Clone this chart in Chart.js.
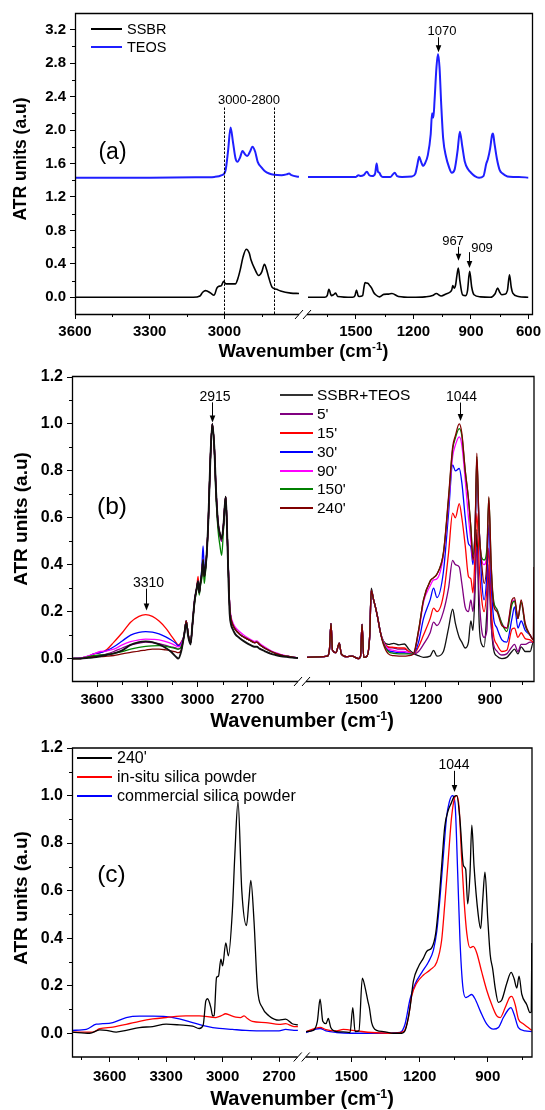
<!DOCTYPE html>
<html lang="en">
<head>
<meta charset="UTF-8">
<title>ATR spectra SSBR / TEOS</title>
<script src="https://cdn.jsdelivr.net/npm/chart.js@4.4.2/dist/chart.umd.min.js"></script>
<style>
  body { margin: 0; background: #fff; font-family: 'Liberation Sans', Arial, Helvetica, sans-serif; }
  #page { position: relative; width: 545px; height: 1110px; overflow: hidden; background: #fff; }
  #page canvas { position: absolute; }
  .t { position: absolute; white-space: nowrap; color: #000; line-height: 1; }
  .t sup { font-size: 62%; vertical-align: 0.6em; line-height: 0; }
  .lg { position: absolute; }
  svg { position: absolute; left: 0; top: 0; }
</style>
</head>
<body>
<div id="page"></div>

<script>
// ---------------- data (wavenumbers in cm-1, ATR units) ----------------

// panel (a) - SSBR and TEOS
const aSsbrLeftX  = [3600, 3125, 3098, 3087, 3075, 3057, 3041, 3030, 3024, 3012, 3003, 2994, 2975, 2956, 2945, 2936, 2925, 2912, 2900, 2893, 2878, 2862, 2850, 2839, 2830, 2821, 2808, 2790, 2774, 2733, 2700];
const aSsbrLeftY  = [0.0, 0.0, 0.016, 0.06, 0.08, 0.055, 0.025, 0.11, 0.13, 0.14, 0.19, 0.16, 0.16, 0.16, 0.23, 0.33, 0.48, 0.575, 0.53, 0.45, 0.34, 0.26, 0.30, 0.395, 0.33, 0.23, 0.12, 0.095, 0.075, 0.05, 0.045];
const aSsbrRightX = [1750, 1663, 1650, 1641, 1628, 1617, 1606, 1595, 1517, 1505, 1497, 1489, 1483, 1465, 1458, 1452, 1445, 1437, 1428, 1418, 1408, 1397, 1377, 1355, 1330, 1312, 1278, 1209, 1140, 1100, 1081, 1055, 1030, 1010, 1000, 995, 988, 980, 974, 966, 958, 944, 927, 918, 907, 896, 884, 850, 799, 775, 761, 750, 739, 725, 710, 699, 690, 682, 653, 600];
const aSsbrRightY = [0.0, 0.0, 0.02, 0.096, 0.02, 0.03, 0.05, 0.01, 0.0, 0.02, 0.087, 0.02, 0.01, 0.02, 0.12, 0.176, 0.17, 0.165, 0.14, 0.11, 0.06, 0.03, 0.005, 0.035, 0.038, 0.045, 0.01, 0.0, 0.005, 0.02, 0.045, 0.015, 0.04, 0.06, 0.09, 0.14, 0.11, 0.15, 0.25, 0.35, 0.2, 0.03, 0.02, 0.08, 0.31, 0.12, 0.03, 0.005, 0.0, 0.04, 0.11, 0.06, 0.03, 0.035, 0.08, 0.27, 0.12, 0.05, 0.01, 0.0];
const aTeosLeftX  = [3600, 3300, 3100, 3040, 3010, 2995, 2985, 2975, 2965, 2955, 2947, 2937, 2927, 2917, 2908, 2897, 2887, 2876, 2866, 2850, 2838, 2820, 2800, 2770, 2750, 2740, 2730, 2700];
const aTeosLeftY  = [1.43, 1.43, 1.435, 1.44, 1.46, 1.52, 1.75, 2.03, 1.85, 1.66, 1.62, 1.67, 1.75, 1.71, 1.69, 1.74, 1.80, 1.74, 1.62, 1.55, 1.51, 1.48, 1.465, 1.46, 1.47, 1.48, 1.46, 1.44];
const aTeosRightX = [1750, 1600, 1500, 1487, 1475, 1460, 1443, 1430, 1415, 1400, 1392, 1385, 1378, 1370, 1360, 1320, 1298, 1285, 1260, 1210, 1190, 1180, 1170, 1160, 1150, 1140, 1125, 1110, 1103, 1096, 1090, 1080, 1072, 1064, 1055, 1045, 1030, 1015, 1000, 985, 970, 958, 945, 932, 915, 900, 880, 858, 835, 820, 812, 800, 790, 785, 778, 765, 750, 735, 710, 680, 650, 600];
const aTeosRightY = [1.44, 1.44, 1.44, 1.46, 1.45, 1.46, 1.50, 1.46, 1.45, 1.48, 1.60, 1.50, 1.49, 1.455, 1.44, 1.44, 1.49, 1.45, 1.44, 1.445, 1.48, 1.58, 1.68, 1.62, 1.57, 1.60, 1.70, 1.95, 2.20, 2.15, 2.35, 2.75, 2.91, 2.75, 2.30, 1.90, 1.68, 1.56, 1.49, 1.53, 1.75, 1.98, 1.80, 1.62, 1.53, 1.49, 1.45, 1.43, 1.45, 1.60, 1.65, 1.78, 1.94, 1.96, 1.85, 1.66, 1.52, 1.48, 1.445, 1.44, 1.44, 1.43];

// panel (b) - SSBR+TEOS and reaction times
const bLegend = ['SSBR+TEOS', "5'", "15'", "30'", "90'", "150'", "240'"];
const bLeftX = [3750, 3700, 3650, 3620, 3580, 3540, 3500, 3450, 3400, 3350, 3310, 3270, 3230, 3190, 3160, 3130, 3115, 3098, 3080, 3068, 3055, 3042, 3030, 3017, 3005, 2997, 2990, 2983, 2975, 2967, 2960, 2955, 2945, 2935, 2925, 2912, 2900, 2890, 2878, 2866, 2856, 2845, 2832, 2825, 2816, 2808, 2800, 2790, 2776, 2750, 2715, 2680, 2660, 2645, 2630, 2600, 2560, 2534, 2500, 2470, 2433, 2400];
const bLeftRef = [0.0, 0.0, 0.003, 0.005, 0.01, 0.016, 0.022, 0.035, 0.058, 0.07, 0.073, 0.07, 0.06, 0.045, 0.03, 0.008, 0.0, 0.03, 0.10, 0.15, 0.09, 0.06, 0.15, 0.25, 0.30, 0.33, 0.28, 0.32, 0.36, 0.42, 0.35, 0.37, 0.45, 0.60, 0.82, 1.0, 0.90, 0.72, 0.58, 0.53, 0.51, 0.57, 0.69, 0.58, 0.35, 0.19, 0.145, 0.125, 0.105, 0.088, 0.07, 0.056, 0.05, 0.05, 0.042, 0.032, 0.02, 0.015, 0.01, 0.007, 0.004, 0.002];
const bLeft5   = [0.0, 0.0, 0.005, 0.01, 0.014, 0.02, 0.03, 0.045, 0.058, 0.066, 0.07, 0.068, 0.063, 0.056, 0.05, 0.045, 0.04, 0.05, 0.10, 0.16, 0.10, 0.065, 0.15, 0.25, 0.30, 0.33, 0.28, 0.32, 0.36, 0.42, 0.35, 0.37, 0.45, 0.60, 0.82, 1.0, 0.90, 0.72, 0.58, 0.52, 0.50, 0.57, 0.69, 0.58, 0.38, 0.22, 0.17, 0.145, 0.125, 0.105, 0.088, 0.075, 0.068, 0.07, 0.06, 0.045, 0.03, 0.022, 0.015, 0.01, 0.006, 0.003];
const bLeft15  = [0.0, 0.002, 0.01, 0.02, 0.025, 0.04, 0.07, 0.11, 0.155, 0.18, 0.187, 0.18, 0.16, 0.13, 0.10, 0.07, 0.058, 0.07, 0.10, 0.16, 0.10, 0.065, 0.15, 0.25, 0.30, 0.35, 0.29, 0.32, 0.36, 0.42, 0.35, 0.37, 0.45, 0.60, 0.82, 1.0, 0.90, 0.72, 0.58, 0.53, 0.51, 0.57, 0.69, 0.58, 0.38, 0.22, 0.17, 0.145, 0.125, 0.105, 0.088, 0.075, 0.068, 0.07, 0.06, 0.045, 0.03, 0.022, 0.015, 0.01, 0.006, 0.003];
const bLeft30  = [0.0, 0.002, 0.01, 0.02, 0.025, 0.035, 0.05, 0.075, 0.10, 0.112, 0.115, 0.113, 0.105, 0.092, 0.08, 0.065, 0.055, 0.065, 0.10, 0.16, 0.10, 0.065, 0.15, 0.25, 0.30, 0.33, 0.28, 0.32, 0.38, 0.48, 0.38, 0.37, 0.45, 0.60, 0.82, 1.0, 0.90, 0.72, 0.58, 0.53, 0.51, 0.57, 0.69, 0.58, 0.38, 0.22, 0.17, 0.145, 0.125, 0.105, 0.088, 0.075, 0.068, 0.07, 0.06, 0.045, 0.03, 0.022, 0.015, 0.01, 0.006, 0.003];
const bLeft90  = [0.0, 0.002, 0.012, 0.02, 0.03, 0.033, 0.04, 0.058, 0.072, 0.08, 0.083, 0.082, 0.08, 0.072, 0.065, 0.055, 0.05, 0.06, 0.10, 0.16, 0.10, 0.065, 0.15, 0.25, 0.30, 0.33, 0.28, 0.32, 0.36, 0.42, 0.35, 0.37, 0.45, 0.60, 0.82, 1.0, 0.90, 0.72, 0.58, 0.53, 0.51, 0.57, 0.69, 0.58, 0.39, 0.23, 0.18, 0.155, 0.135, 0.115, 0.095, 0.08, 0.073, 0.075, 0.065, 0.05, 0.033, 0.025, 0.017, 0.011, 0.007, 0.003];
const bLeft150 = [0.0, 0.0, 0.008, 0.012, 0.015, 0.018, 0.022, 0.03, 0.04, 0.048, 0.052, 0.054, 0.055, 0.052, 0.048, 0.042, 0.04, 0.05, 0.10, 0.16, 0.10, 0.065, 0.15, 0.24, 0.29, 0.32, 0.27, 0.31, 0.34, 0.40, 0.32, 0.35, 0.44, 0.60, 0.82, 1.0, 0.90, 0.70, 0.55, 0.48, 0.44, 0.55, 0.69, 0.58, 0.38, 0.22, 0.17, 0.145, 0.125, 0.105, 0.088, 0.075, 0.068, 0.07, 0.06, 0.045, 0.03, 0.022, 0.015, 0.01, 0.006, 0.003];
const bLeft240 = [0.0, 0.0, 0.005, 0.008, 0.008, 0.01, 0.013, 0.02, 0.026, 0.032, 0.036, 0.04, 0.04, 0.037, 0.033, 0.028, 0.025, 0.035, 0.10, 0.16, 0.10, 0.065, 0.15, 0.25, 0.30, 0.33, 0.28, 0.32, 0.36, 0.42, 0.35, 0.37, 0.45, 0.60, 0.82, 1.0, 0.90, 0.72, 0.58, 0.53, 0.51, 0.57, 0.69, 0.58, 0.38, 0.22, 0.17, 0.145, 0.125, 0.105, 0.088, 0.075, 0.068, 0.07, 0.06, 0.045, 0.03, 0.022, 0.015, 0.01, 0.006, 0.003];

const bRightX = [1755, 1700, 1660, 1650, 1643, 1636, 1620, 1604, 1595, 1570, 1545, 1515, 1505, 1498, 1490, 1475, 1462, 1455, 1444, 1433, 1424, 1413, 1398, 1375, 1350, 1325, 1300, 1280, 1258, 1234, 1211, 1180, 1164, 1148, 1118, 1094, 1075, 1062, 1044, 1032, 1016, 1001, 990, 980, 970, 962, 951, 939, 928, 915, 906, 895, 884, 868, 845, 822, 798, 786, 770, 755, 736, 713, 698, 695];
const bRightRef = [0.005, 0.007, 0.01, 0.04, 0.15, 0.035, 0.025, 0.066, 0.02, 0.008, 0.01, 0.0, 0.01, 0.145, 0.005, 0.01, 0.1, 0.30, 0.25, 0.21, 0.17, 0.115, 0.075, 0.06, 0.065, 0.058, 0.062, 0.04, 0.022, 0.012, 0.005, 0.01, 0.035, 0.01, 0.03, 0.13, 0.21, 0.15, 0.09, 0.07, 0.045, 0.07, 0.16, 0.12, 0.3, 0.55, 0.15, 0.06, 0.05, 0.2, 0.36, 0.15, 0.04, 0.01, 0.0, 0.005, 0.03, 0.04, 0.02, 0.05, 0.03, 0.03, 0.07, 0.07];
const bRight5   = [0.005, 0.007, 0.01, 0.04, 0.15, 0.035, 0.025, 0.066, 0.02, 0.008, 0.01, 0.0, 0.01, 0.145, 0.005, 0.01, 0.1, 0.29, 0.25, 0.21, 0.17, 0.115, 0.07, 0.048, 0.045, 0.04, 0.04, 0.03, 0.02, 0.03, 0.06, 0.11, 0.155, 0.14, 0.20, 0.30, 0.418, 0.40, 0.39, 0.32, 0.218, 0.20, 0.25, 0.20, 0.33, 0.475, 0.26, 0.12, 0.09, 0.12, 0.40, 0.15, 0.06, 0.032, 0.015, 0.02, 0.05, 0.06, 0.03, 0.06, 0.06, 0.07, 0.07, 0.07];
const bRight15  = [0.005, 0.007, 0.01, 0.04, 0.15, 0.035, 0.025, 0.066, 0.02, 0.008, 0.01, 0.0, 0.01, 0.145, 0.005, 0.01, 0.1, 0.29, 0.25, 0.21, 0.17, 0.115, 0.07, 0.05, 0.048, 0.045, 0.045, 0.03, 0.02, 0.05, 0.10, 0.17, 0.215, 0.20, 0.27, 0.45, 0.62, 0.60, 0.66, 0.60, 0.48, 0.35, 0.34, 0.28, 0.45, 0.62, 0.40, 0.25, 0.20, 0.30, 0.47, 0.22, 0.10, 0.06, 0.03, 0.035, 0.125, 0.13, 0.09, 0.11, 0.085, 0.08, 0.07, 0.07];
const bRight30  = [0.005, 0.007, 0.01, 0.04, 0.15, 0.035, 0.025, 0.066, 0.02, 0.008, 0.01, 0.0, 0.01, 0.145, 0.005, 0.01, 0.1, 0.29, 0.25, 0.21, 0.17, 0.115, 0.065, 0.035, 0.028, 0.025, 0.025, 0.022, 0.02, 0.07, 0.17, 0.25, 0.30, 0.26, 0.37, 0.62, 0.825, 0.80, 0.81, 0.75, 0.60, 0.49, 0.475, 0.40, 0.55, 0.78, 0.55, 0.33, 0.25, 0.36, 0.57, 0.32, 0.175, 0.13, 0.08, 0.07, 0.17, 0.22, 0.13, 0.16, 0.12, 0.10, 0.08, 0.08];
const bRight90  = [0.005, 0.007, 0.01, 0.04, 0.15, 0.035, 0.025, 0.066, 0.02, 0.008, 0.01, 0.0, 0.01, 0.145, 0.005, 0.01, 0.1, 0.29, 0.25, 0.21, 0.17, 0.115, 0.07, 0.04, 0.035, 0.03, 0.03, 0.025, 0.02, 0.11, 0.24, 0.31, 0.335, 0.34, 0.44, 0.66, 0.86, 0.91, 0.945, 0.91, 0.76, 0.60, 0.50, 0.42, 0.55, 0.85, 0.55, 0.42, 0.40, 0.45, 0.66, 0.38, 0.24, 0.21, 0.15, 0.13, 0.24, 0.25, 0.17, 0.24, 0.14, 0.10, 0.08, 0.08];
const bRight150 = [0.005, 0.007, 0.01, 0.04, 0.15, 0.035, 0.025, 0.066, 0.02, 0.008, 0.01, 0.0, 0.01, 0.145, 0.005, 0.01, 0.1, 0.29, 0.25, 0.21, 0.17, 0.115, 0.065, 0.03, 0.022, 0.02, 0.02, 0.02, 0.02, 0.12, 0.25, 0.33, 0.345, 0.36, 0.45, 0.68, 0.89, 0.94, 0.98, 0.95, 0.80, 0.68, 0.56, 0.44, 0.55, 0.86, 0.55, 0.43, 0.42, 0.47, 0.685, 0.40, 0.25, 0.21, 0.15, 0.115, 0.23, 0.245, 0.17, 0.24, 0.14, 0.10, 0.08, 0.08];
const bRight240 = [0.005, 0.007, 0.01, 0.04, 0.15, 0.035, 0.025, 0.066, 0.02, 0.008, 0.01, 0.0, 0.01, 0.145, 0.005, 0.01, 0.1, 0.29, 0.25, 0.21, 0.17, 0.115, 0.06, 0.02, 0.012, 0.01, 0.01, 0.012, 0.02, 0.12, 0.25, 0.33, 0.345, 0.36, 0.45, 0.69, 0.90, 0.95, 1.0, 0.96, 0.80, 0.68, 0.56, 0.42, 0.55, 0.875, 0.55, 0.40, 0.32, 0.42, 0.69, 0.40, 0.23, 0.20, 0.14, 0.13, 0.25, 0.26, 0.17, 0.25, 0.15, 0.10, 0.08, 0.39];

// panel (c) - 240' film and silica powders
const cLegend = ["240'", 'in-situ silica powder', 'commercial silica powder'];
const cFilmLeftX  = [3800, 3706, 3653, 3618, 3565, 3512, 3442, 3371, 3300, 3230, 3159, 3124, 3103, 3089, 3080, 3062, 3053, 3045, 3032, 3022, 3009, 3000, 2983, 2969, 2948, 2935, 2918, 2898, 2873, 2860, 2850, 2833, 2815, 2789, 2753, 2700, 2665, 2630, 2600];
const cFilmLeftY  = [0.005, 0.0, 0.014, 0.012, 0.005, 0.012, 0.024, 0.028, 0.038, 0.035, 0.03, 0.02, 0.035, 0.136, 0.145, 0.107, 0.073, 0.075, 0.235, 0.24, 0.312, 0.284, 0.38, 0.326, 0.516, 0.75, 0.975, 0.60, 0.453, 0.56, 0.643, 0.47, 0.19, 0.108, 0.073, 0.055, 0.059, 0.04, 0.035];
const cInsituLeftX = [3800, 3689, 3653, 3583, 3512, 3442, 3371, 3300, 3195, 3124, 3036, 3009, 2983, 2965, 2930, 2905, 2886, 2868, 2842, 2771, 2700, 2665, 2621, 2600];
const cInsituLeftY = [0.005, 0.005, 0.019, 0.026, 0.037, 0.05, 0.06, 0.066, 0.073, 0.073, 0.066, 0.073, 0.082, 0.077, 0.068, 0.066, 0.073, 0.062, 0.05, 0.045, 0.037, 0.04, 0.028, 0.028];
const cCommLeftX  = [3800, 3724, 3671, 3636, 3583, 3512, 3442, 3371, 3300, 3230, 3159, 3089, 3018, 2948, 2877, 2806, 2700, 2665, 2621, 2600];
const cCommLeftY  = [0.012, 0.016, 0.038, 0.04, 0.045, 0.066, 0.072, 0.072, 0.07, 0.06, 0.045, 0.03, 0.02, 0.016, 0.012, 0.01, 0.01, 0.016, 0.012, 0.012];
const cFilmRightX = [1700, 1668, 1650, 1638, 1626, 1612, 1602, 1591, 1565, 1536, 1506, 1494, 1484, 1467, 1452, 1440, 1428, 1421, 1411, 1389, 1359, 1315, 1278, 1264, 1242, 1227, 1205, 1183, 1168, 1146, 1129, 1117, 1103, 1089, 1073, 1061, 1048, 1036, 1022, 1007, 997, 988, 978, 970, 960, 942, 931, 922, 912, 900, 889, 878, 867, 853, 838, 816, 797, 784, 772, 762, 750, 728, 714, 708, 706];
const cFilmRightY = [0.007, 0.012, 0.05, 0.143, 0.05, 0.04, 0.062, 0.024, 0.007, 0.006, 0.003, 0.108, 0.007, 0.01, 0.232, 0.193, 0.137, 0.108, 0.045, 0.012, 0.007, 0.0, 0.0, 0.01, 0.108, 0.22, 0.28, 0.316, 0.345, 0.36, 0.42, 0.53, 0.70, 0.87, 0.94, 0.967, 0.995, 1.0, 0.896, 0.706, 0.69, 0.544, 0.67, 0.875, 0.70, 0.50, 0.44, 0.56, 0.678, 0.485, 0.33, 0.27, 0.19, 0.13, 0.14, 0.21, 0.256, 0.23, 0.19, 0.24, 0.164, 0.12, 0.087, 0.09, 0.38];
const cInsituRightX = [1700, 1638, 1612, 1565, 1536, 1477, 1411, 1330, 1271, 1249, 1235, 1213, 1183, 1154, 1124, 1103, 1089, 1073, 1059, 1044, 1036, 1026, 1015, 1004, 992, 978, 964, 949, 927, 904, 882, 860, 845, 823, 804, 794, 779, 765, 744, 722, 706];
const cInsituRightY = [0.007, 0.025, 0.015, 0.01, 0.016, 0.01, 0.003, 0.0, 0.007, 0.066, 0.155, 0.21, 0.245, 0.266, 0.30, 0.39, 0.544, 0.74, 0.91, 0.995, 1.0, 0.95, 0.74, 0.558, 0.42, 0.36, 0.365, 0.34, 0.26, 0.18, 0.12, 0.073, 0.066, 0.108, 0.15, 0.155, 0.12, 0.06, 0.04, 0.024, 0.012];
const cCommRightX = [1700, 1638, 1612, 1565, 1500, 1400, 1286, 1264, 1242, 1220, 1190, 1161, 1139, 1124, 1110, 1095, 1081, 1069, 1056, 1044, 1032, 1022, 1010, 997, 985, 971, 956, 933, 904, 875, 853, 831, 809, 798, 784, 765, 735, 706];
const cCommRightY = [0.003, 0.02, 0.01, 0.003, 0.0, 0.0, 0.004, 0.038, 0.143, 0.206, 0.256, 0.30, 0.35, 0.43, 0.57, 0.75, 0.91, 0.973, 1.0, 0.967, 0.67, 0.39, 0.2, 0.15, 0.155, 0.163, 0.145, 0.094, 0.038, 0.017, 0.024, 0.066, 0.1, 0.108, 0.08, 0.024, 0.01, 0.007];

// ticks
const aLeftMajor = [3600, 3300, 3000], aLeftMinor = [3450, 3150, 2850];
const aRightMajor = [1500, 1200, 900, 600], aRightMinor = [1650, 1350, 1050, 750];
const aYMajor = [0, 0.4, 0.8, 1.2, 1.6, 2.0, 2.4, 2.8, 3.2];
const aYMinor = [0.2, 0.6, 1.0, 1.4, 1.8, 2.2, 2.6, 3.0];
const bLeftMajor = [3600, 3300, 3000, 2700], bLeftMinor = [3450, 3150, 2850, 2550];
const cLeftMajor = [3600, 3300, 3000, 2700], cLeftMinor = [3750, 3450, 3150, 2850];
const bcRightMajor = [1500, 1200, 900], bcRightMinor = [1650, 1350, 1050, 750];
const bcYMajor = [0, 0.2, 0.4, 0.6, 0.8, 1.0, 1.2];
const bcYMinor = [0.1, 0.3, 0.5, 0.7, 0.9, 1.1];

// ---------------- drawing ----------------
Chart.defaults.font.family = "'Liberation Sans', Arial, Helvetica, sans-serif";
Chart.defaults.color = '#000';

const page = document.getElementById('page');

// minor ticks, arrows and dashed marker lines drawn from the chart scales
const extras = {
  id: 'extras',
  afterDatasetsDraw(chart, args, o) {
    const { ctx, chartArea: a, scales: { x, y } } = chart;
    ctx.save();
    ctx.strokeStyle = '#000';
    ctx.fillStyle = '#000';
    ctx.lineWidth = 1;
    const seg = (x1, y1, x2, y2) => { ctx.beginPath(); ctx.moveTo(x1, y1); ctx.lineTo(x2, y2); ctx.stroke(); };
    (o.minorX || []).forEach(v => {
      const px = Math.round(x.getPixelForValue(v)) + 0.5;
      seg(px, a.bottom, px, a.bottom + 3);
    });
    (o.minorY || []).forEach(v => {
      const py = Math.round(y.getPixelForValue(v)) + 0.5;
      seg(a.left - 3, py, a.left, py);
    });
    (o.vlines || []).forEach(l => {
      const px = Math.round(x.getPixelForValue(l.x)) + 0.5;
      ctx.setLineDash([2.5, 1.5]);
      seg(px, y.getPixelForValue(l.y1), px, y.getPixelForValue(l.y2));
      ctx.setLineDash([]);
    });
    (o.arrows || []).forEach(r => {
      const px = Math.round(x.getPixelForValue(r.x)) + 0.5;
      const top = y.getPixelForValue(r.y1), tip = y.getPixelForValue(r.y2);
      seg(px, top, px, tip - 6);
      ctx.beginPath();
      ctx.moveTo(px - 2.8, tip - 7);
      ctx.lineTo(px + 2.8, tip - 7);
      ctx.lineTo(px, tip);
      ctx.closePath();
      ctx.fill();
    });
    ctx.restore();
  }
};

function line(xs, ys, color, width, order) {
  return {
    data: xs.map((x, i) => ({ x: x, y: ys[i] })),
    borderColor: color,
    borderWidth: width,
    pointRadius: 0,
    cubicInterpolationMode: 'monotone',
    fill: false,
    order: order
  };
}

function segChart(c) {
  const cv = document.createElement('canvas');
  cv.width = c.w; cv.height = c.h;
  cv.style.left = c.left + 'px'; cv.style.top = c.top + 'px';
  cv.style.width = c.w + 'px'; cv.style.height = c.h + 'px';
  page.appendChild(cv);
  const grid = { drawOnChartArea: false, drawTicks: true, tickLength: 5, color: '#000', lineWidth: 1 };
  new Chart(cv, {
    type: 'line',
    data: { datasets: c.datasets },
    plugins: [extras],
    options: {
      responsive: false,
      animation: false,
      events: [],
      layout: { autoPadding: false, padding: c.pad },
      plugins: {
        legend: { display: false },
        tooltip: { enabled: false },
        extras: { minorX: c.xMinor, minorY: c.yMinor, arrows: c.arrows, vlines: c.vlines }
      },
      scales: {
        x: {
          type: 'linear', min: c.xMin, max: c.xMax, reverse: true,
          afterBuildTicks: s => { s.ticks = c.xMajor.map(v => ({ value: v })); },
          afterFit: s => { s.height = c.xHeight; },
          grid: grid,
          border: { display: false },
          ticks: { autoSkip: false, maxRotation: 0, padding: c.xPad, font: { size: 15, weight: 'bold' }, callback: v => String(v) }
        },
        y: {
          type: 'linear', min: c.yMin, max: c.yMax, display: c.yWidth > 0,
          afterBuildTicks: s => { s.ticks = c.yMajor.map(v => ({ value: v })); },
          afterFit: s => { s.width = c.yWidth; },
          grid: grid,
          border: { display: false },
          ticks: { padding: 4, font: { size: c.yFont || 15, weight: 'bold' }, callback: v => v.toFixed(1) }
        }
      }
    }
  });
}

// ---- panel (a)
segChart({
  left: 0, top: 0, w: 303, h: 345, pad: { top: 13, left: 0, right: 4, bottom: 0 },
  yWidth: 75, xHeight: 31, xPad: 4,
  xMin: 2700, xMax: 3600, yMin: -0.2, yMax: 3.4,
  xMajor: aLeftMajor, xMinor: aLeftMinor, yMajor: aYMajor, yMinor: aYMinor,
  vlines: [{ x: 3000, y1: 2.27, y2: -0.2 }, { x: 2800, y1: 2.27, y2: -0.2 }],
  datasets: [
    line(aSsbrLeftX, aSsbrLeftY, '#000', 1.6, 1),
    line(aTeosLeftX, aTeosLeftY, '#1f1fff', 2, 0)
  ]
});
segChart({
  left: 303, top: 0, w: 242, h: 345, pad: { top: 13, left: 5, right: 13, bottom: 0 },
  yWidth: 0, xHeight: 31, xPad: 4,
  xMin: 600, xMax: 1750, yMin: -0.2, yMax: 3.4,
  xMajor: aRightMajor, xMinor: aRightMinor, yMajor: aYMajor, yMinor: [],
  arrows: [{ x: 1072, y1: 3.11, y2: 2.93 }, { x: 967, y1: 0.605, y2: 0.437 }, { x: 908, y1: 0.54, y2: 0.35 }],
  datasets: [
    line(aSsbrRightX, aSsbrRightY, '#000', 1.6, 1),
    line(aTeosRightX, aTeosRightY, '#1f1fff', 2, 0)
  ]
});

// ---- panel (b)
const bColors = ['#111111', '#800080', '#ff0000', '#0000ff', '#ff00ff', '#008000', '#800000'];
const bLeftSets = [bLeftRef, bLeft5, bLeft15, bLeft30, bLeft90, bLeft150, bLeft240];
const bRightSets = [bRightRef, bRight5, bRight15, bRight30, bRight90, bRight150, bRight240];
segChart({
  left: 0, top: 360, w: 302, h: 345, pad: { top: 17, left: 0, right: 4, bottom: 0 },
  yWidth: 72, xHeight: 23, xPad: 4, yFont: 16,
  xMin: 2400, xMax: 3750, yMin: -0.1, yMax: 1.2,
  xMajor: bLeftMajor, xMinor: bLeftMinor, yMajor: bcYMajor, yMinor: bcYMinor,
  arrows: [{ x: 2912, y1: 1.092, y2: 1.006 }, { x: 3309, y1: 0.298, y2: 0.205 }],
  datasets: bLeftSets.map((s, i) => line(bLeftX, s, bColors[i], i === 0 ? 1.9 : 1.3, i === 0 ? 0 : 8 - i))
});
segChart({
  left: 302, top: 360, w: 243, h: 345, pad: { top: 17, left: 5, right: 11, bottom: 0 },
  yWidth: 0, xHeight: 23, xPad: 4,
  xMin: 695, xMax: 1755, yMin: -0.1, yMax: 1.2,
  xMajor: bcRightMajor, xMinor: bcRightMinor, yMajor: bcYMajor, yMinor: [],
  arrows: [{ x: 1040, y1: 1.091, y2: 1.012 }],
  datasets: bRightSets.map((s, i) => line(bRightX, s, bColors[i], 1.3, 7 - i))
});

// ---- panel (c)
segChart({
  left: 0, top: 730, w: 302, h: 380, pad: { top: 18, left: 0, right: 3, bottom: 0 },
  yWidth: 72, xHeight: 53, xPad: 6, yFont: 16,
  xMin: 2600, xMax: 3800, yMin: -0.1, yMax: 1.2,
  xMajor: cLeftMajor, xMinor: cLeftMinor, yMajor: bcYMajor, yMinor: bcYMinor,
  datasets: [
    line(cFilmLeftX, cFilmLeftY, '#000', 1.3, 0),
    line(cInsituLeftX, cInsituLeftY, '#ff0000', 1.3, 1),
    line(cCommLeftX, cCommLeftY, '#0000ff', 1.3, 2)
  ]
});
segChart({
  left: 302, top: 730, w: 243, h: 380, pad: { top: 18, left: 4, right: 13, bottom: 0 },
  yWidth: 0, xHeight: 53, xPad: 6,
  xMin: 705, xMax: 1700, yMin: -0.1, yMax: 1.2,
  xMajor: bcRightMajor, xMinor: bcRightMinor, yMajor: bcYMajor, yMinor: [],
  arrows: [{ x: 1048, y1: 1.104, y2: 1.015 }],
  datasets: [
    line(cFilmRightX, cFilmRightY, '#000', 1.3, 0),
    line(cInsituRightX, cInsituRightY, '#ff0000', 1.3, 1),
    line(cCommRightX, cCommRightY, '#0000ff', 1.3, 2)
  ]
});

// ---- frames with axis breaks
const frames = [
  { l: 75.5, t: 13.5, r: 532.5, b: 314.5, g1: 299, g2: 307 },
  { l: 72.5, t: 376.5, r: 534, b: 681.5, g1: 298, g2: 306 },
  { l: 72.5, t: 748, r: 532, b: 1057, g1: 297.7, g2: 305.7 }
];
let svg = '<svg width="545" height="1110" xmlns="http://www.w3.org/2000/svg"><g stroke="#000" stroke-width="1.3" fill="none">';
frames.forEach(f => {
  svg += `<path d="M${f.g1} ${f.b} H${f.l} V${f.t} H${f.r} V${f.b} H${f.g2}"/>`;
  svg += `<path d="M${f.g1 - 4} ${f.b + 4.5} L${f.g1 + 4} ${f.b - 4.5} M${f.g2 - 4} ${f.b + 4.5} L${f.g2 + 4} ${f.b - 4.5}" stroke-width="1"/>`;
});
svg += '</g></svg>';
page.insertAdjacentHTML('beforeend', svg);

// ---- text
function text(html, x, y, size, opt) {
  opt = opt || {};
  const d = document.createElement('div');
  d.className = 't';
  d.innerHTML = html;
  d.style.fontSize = size + 'px';
  if (opt.bold) d.style.fontWeight = 'bold';
  d.style.left = x + 'px';
  d.style.top = y + 'px';
  if (opt.rotate) d.style.transform = 'translate(-50%,-50%) rotate(-90deg)';
  else if (opt.leftAlign) d.style.transform = 'translateY(-50%)';
  else d.style.transform = 'translate(-50%,-50%)';
  page.appendChild(d);
}
function legendRow(label, color, h, x1, x2, tx, y, size) {
  const l = document.createElement('div');
  l.className = 'lg';
  l.style.left = x1 + 'px';
  l.style.width = (x2 - x1) + 'px';
  l.style.top = Math.round(y - h / 2) + 'px';
  l.style.height = h + 'px';
  l.style.background = color;
  page.appendChild(l);
  text(label, tx, y, size, { leftAlign: true });
}

const yTitle = 'ATR units (a.u)';
const xTitle = 'Wavenumber (cm<sup>-1</sup>)';

// (a)
text(yTitle, 21, 158.5, 17.5, { bold: true, rotate: true });
text(xTitle, 303.5, 350.5, 18.5, { bold: true });
text('(a)', 112.5, 150.5, 23);
text('1070', 442, 30, 13);
text('3000-2800', 249, 99, 13);
text('967', 453, 240, 13);
text('909', 482, 247, 13);
legendRow('SSBR', '#000', 2, 91, 122, 127, 29.3, 14.5);
legendRow('TEOS', '#1f1fff', 2, 91, 122, 127, 47.3, 14.5);

// (b)
text(yTitle, 20, 519, 19, { bold: true, rotate: true });
text(xTitle, 302, 720, 20, { bold: true });
text('(b)', 112, 506, 24.5);
text('2915', 215, 395.5, 14);
text('3310', 148.5, 582, 14);
text('1044', 461.5, 396, 14);
const bRows = [395, 414, 433, 452, 471, 489, 508];
bLegend.forEach((s, i) => legendRow(s, i === 0 ? '#333' : bColors[i], 2, 280, 313, 317, bRows[i], 15.5));

// (c)
text(yTitle, 20, 897.5, 19, { bold: true, rotate: true });
text(xTitle, 302, 1098, 20, { bold: true });
text('(c)', 111.5, 874, 24.5);
text('1044', 454, 763.5, 14);
const cRows = [758, 777, 796];
const cColors = ['#000000', '#ff0000', '#0000ff'];
cLegend.forEach((s, i) => legendRow(s, cColors[i], 2, 77, 112, 117, cRows[i], 16));
</script>
</body>
</html>
